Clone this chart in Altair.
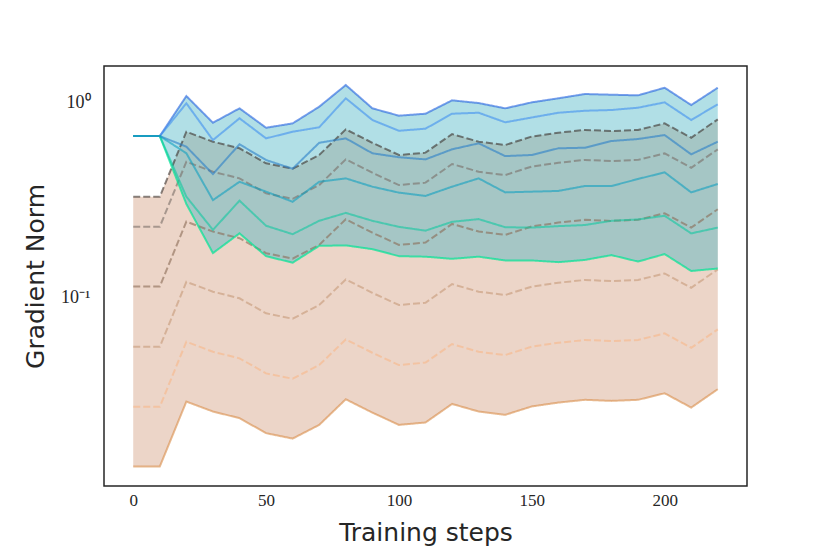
import altair as alt
import pandas as pd

steps = [0, 10, 20, 30, 40, 50, 60, 70, 80, 90, 100, 110, 120, 130, 140, 150, 160, 170, 180, 190, 200, 210, 220]

# blue/green family (solid lines), top to bottom
blue_1 = [0.669, 0.669, 1.073, 0.783, 0.928, 0.738, 0.777, 0.946, 1.222, 0.928, 0.851, 0.871, 1.020, 0.988, 0.928, 0.996, 1.045, 1.099, 1.090, 1.082, 1.184, 0.965, 1.184]
blue_2 = [0.669, 0.669, 0.985, 0.638, 0.825, 0.651, 0.704, 0.742, 1.045, 0.809, 0.712, 0.730, 0.871, 0.881, 0.787, 0.833, 0.881, 0.902, 0.910, 0.935, 0.996, 0.809, 0.973]
blue_3 = [0.669, 0.669, 0.590, 0.427, 0.607, 0.504, 0.455, 0.618, 0.651, 0.546, 0.521, 0.508, 0.572, 0.614, 0.528, 0.535, 0.579, 0.583, 0.631, 0.646, 0.677, 0.539, 0.626]
blue_4 = [0.669, 0.669, 0.546, 0.314, 0.390, 0.347, 0.308, 0.390, 0.406, 0.368, 0.343, 0.330, 0.368, 0.406, 0.344, 0.347, 0.350, 0.371, 0.371, 0.403, 0.436, 0.344, 0.380]
blue_5 = [0.669, 0.669, 0.327, 0.221, 0.312, 0.232, 0.210, 0.246, 0.270, 0.246, 0.229, 0.219, 0.243, 0.251, 0.228, 0.227, 0.231, 0.234, 0.246, 0.250, 0.261, 0.212, 0.227]
blue_6 = [0.669, 0.669, 0.300, 0.168, 0.212, 0.162, 0.150, 0.183, 0.184, 0.176, 0.162, 0.161, 0.157, 0.161, 0.154, 0.154, 0.151, 0.155, 0.164, 0.152, 0.166, 0.136, 0.140]

# copper family (dashed lines, bottom one solid), top to bottom
orange_1 = [0.327, 0.327, 0.704, 0.626, 0.579, 0.485, 0.455, 0.535, 0.724, 0.618, 0.535, 0.550, 0.685, 0.626, 0.602, 0.665, 0.696, 0.719, 0.710, 0.719, 0.777, 0.656, 0.815]
orange_2 = [0.2295, 0.2295, 0.494, 0.439, 0.406, 0.340, 0.319, 0.375, 0.508, 0.434, 0.375, 0.386, 0.481, 0.439, 0.422, 0.467, 0.488, 0.505, 0.498, 0.505, 0.545, 0.460, 0.572]
orange_3 = [0.1131, 0.1131, 0.2436, 0.2166, 0.2003, 0.1678, 0.1574, 0.1851, 0.2505, 0.2138, 0.1851, 0.1903, 0.2370, 0.2166, 0.2083, 0.2301, 0.2408, 0.2488, 0.2457, 0.2488, 0.2689, 0.2270, 0.2820]
orange_4 = [0.0556, 0.0556, 0.1197, 0.1065, 0.0985, 0.0825, 0.0774, 0.0910, 0.1231, 0.1051, 0.0910, 0.0935, 0.1165, 0.1065, 0.1024, 0.1131, 0.1184, 0.1223, 0.1207, 0.1223, 0.1321, 0.1116, 0.1386]
orange_5 = [0.0274, 0.0274, 0.0590, 0.0524, 0.0485, 0.0406, 0.0381, 0.0448, 0.0606, 0.0518, 0.0448, 0.0461, 0.0574, 0.0524, 0.0504, 0.0557, 0.0583, 0.0602, 0.0595, 0.0602, 0.0651, 0.0549, 0.0683]
orange_6 = [0.01351, 0.01351, 0.0291, 0.02587, 0.02393, 0.02004, 0.0188, 0.0221, 0.0299, 0.02554, 0.0221, 0.02273, 0.0283, 0.02587, 0.02488, 0.02748, 0.02876, 0.02971, 0.02934, 0.02971, 0.0321, 0.02711, 0.03368]

x_ticks = [0, 50, 100, 150, 200]
y_ticks = [0.1, 1]

wide_df = pd.DataFrame({
    "step": steps,
    "b_top": blue_1, "b_bot": blue_6,
    "o_top": orange_1, "o_bot": orange_6,
})

x_scale = alt.Scale(domain=[-11, 231], nice=False, zero=False)
y_scale = alt.Scale(type="log", domain=[0.01074, 1.530], nice=False)

x_axis = alt.Axis(values=x_ticks, title="Training steps", labelFont="Liberation Serif",
                  labelFontSize=17, labelPadding=6, titleFont="DejaVu Sans",
                  titleFontSize=25, titleFontWeight="normal", titlePadding=12,
                  labelColor="#262626", titleColor="#262626",
                  domain=False, ticks=False, grid=False)
y_axis = alt.Axis(values=y_ticks, title="Gradient Norm",
                  labelExpr="datum.value >= 0.5 ? '10⁰' : '10⁻¹'",
                  labelFont="Liberation Serif", labelFontSize=18, labelPadding=14,
                  titleFont="DejaVu Sans", titleFontSize=25, titleFontWeight="normal",
                  titlePadding=12, labelColor="#262626", titleColor="#262626",
                  domain=False, ticks=False, grid=False)

orange_area = alt.Chart(wide_df).mark_area(color="#ecd5c8", opacity=1).encode(
    x=alt.X("step:Q", scale=x_scale, axis=x_axis),
    y=alt.Y("o_bot:Q", scale=y_scale, axis=y_axis),
    y2="o_top:Q",
)
blue_area = alt.Chart(wide_df).mark_area(color="#3cafc0", opacity=0.4).encode(
    x=alt.X("step:Q", scale=x_scale),
    y=alt.Y("b_bot:Q", scale=y_scale),
    y2="b_top:Q",
)


def line_layer(name, vals, color, dash, opacity):
    df = pd.DataFrame({"step": steps, "value": vals, "series": name})
    return alt.Chart(df).mark_line(
        strokeWidth=2, opacity=opacity, color=color, strokeDash=dash
    ).encode(
        x=alt.X("step:Q", scale=x_scale),
        y=alt.Y("value:Q", scale=y_scale),
    )


dash = [7, 3]
orange_layers = [
    line_layer("o1", orange_1, "#3a302c", dash, 0.6),
    line_layer("o2", orange_2, "#7a6e68", dash, 0.6),
    line_layer("o3", orange_3, "#8a6a55", dash, 0.6),
    line_layer("o4", orange_4, "#c69a78", dash, 0.6),
    line_layer("o5", orange_5, "#f8b888", dash, 0.6),
    line_layer("o6", orange_6, "#d98c48", [1, 0], 0.6),
]
# drawn so that the mid colours dominate where all lines coincide
blue_layers = [
    line_layer("b1", blue_1, "#1f5fe0", [1, 0], 0.6),
    line_layer("b6", blue_6, "#00e496", [1, 0], 0.7),
    line_layer("b2", blue_2, "#3f8ff0", [1, 0], 0.6),
    line_layer("b5", blue_5, "#10c8a0", [1, 0], 0.6),
    line_layer("b3", blue_3, "#2a7fc8", [1, 0], 0.6),
    line_layer("b4", blue_4, "#10a0c0", [1, 0], 0.6),
]

chart = alt.layer(orange_area, blue_area, *orange_layers, *blue_layers).properties(
    width=643, height=420,
    background="white",
    autosize=alt.AutoSizeParams(type="none"),
    padding={"left": 96, "top": 58, "right": 75, "bottom": 72},
).configure_view(
    stroke="#262626", strokeWidth=1.5
).configure_axis(
    domain=False, ticks=False, grid=False
)

chart.save("out.html", embed_options={"renderer": "svg", "actions": False})
